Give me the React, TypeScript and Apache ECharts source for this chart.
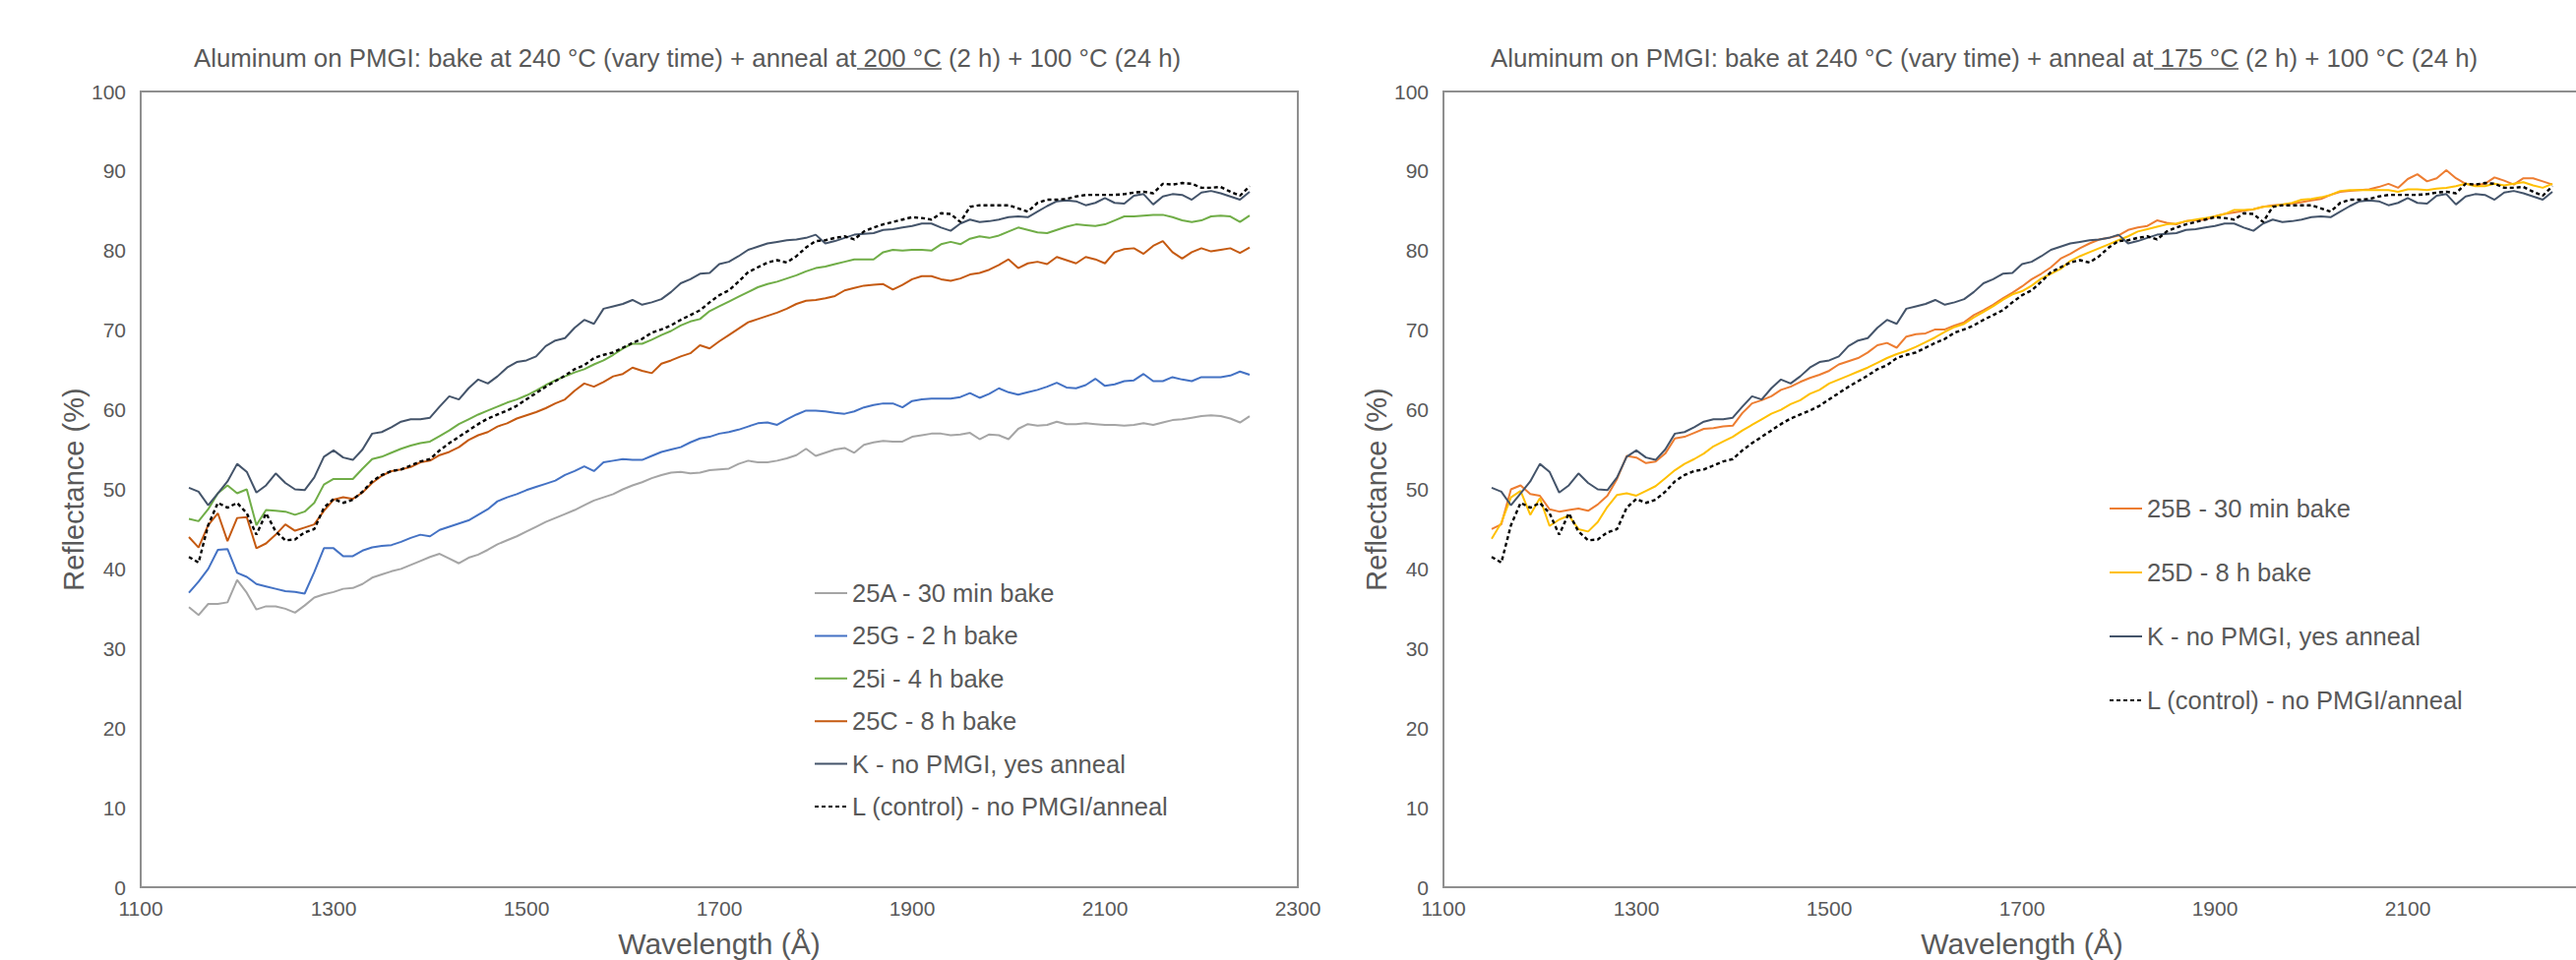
import React, { useEffect, useRef } from "react";
import * as echarts from "echarts";

// Wavelength grid (Å)
const WAVELENGTH = [
  1150, 1160, 1170, 1180, 1190, 1200, 1210, 1220, 1230, 1240,
  1250, 1260, 1270, 1280, 1290, 1300, 1310, 1320, 1330, 1340,
  1350, 1360, 1370, 1380, 1390, 1400, 1410, 1420, 1430, 1440,
  1450, 1460, 1470, 1480, 1490, 1500, 1510, 1520, 1530, 1540,
  1550, 1560, 1570, 1580, 1590, 1600, 1610, 1620, 1630, 1640,
  1650, 1660, 1670, 1680, 1690, 1700, 1710, 1720, 1730, 1740,
  1750, 1760, 1770, 1780, 1790, 1800, 1810, 1820, 1830, 1840,
  1850, 1860, 1870, 1880, 1890, 1900, 1910, 1920, 1930, 1940,
  1950, 1960, 1970, 1980, 1990, 2000, 2010, 2020, 2030, 2040,
  2050, 2060, 2070, 2080, 2090, 2100, 2110, 2120, 2130, 2140,
  2150, 2160, 2170, 2180, 2190, 2200, 2210, 2220, 2230, 2240,
  2250,
];

const X_TICKS = [1100, 1300, 1500, 1700, 1900, 2100, 2300];
const Y_TICKS = [0, 10, 20, 30, 40, 50, 60, 70, 80, 90, 100];

// 25A - 30 min bake (200 °C anneal)
const S25A = [
  35.2, 34.2, 35.6, 35.6, 35.8, 38.6, 37.0, 34.9, 35.3, 35.3,
  35.0, 34.5, 35.4, 36.4, 36.8, 37.1, 37.5, 37.6, 38.1, 38.9,
  39.3, 39.7, 40.0, 40.5, 41.0, 41.5, 41.9, 41.3, 40.7, 41.4,
  41.8, 42.4, 43.1, 43.6, 44.1, 44.7, 45.3, 45.9, 46.4, 46.9,
  47.4, 48.0, 48.6, 49.0, 49.4, 50.0, 50.5, 50.9, 51.4, 51.8,
  52.1, 52.2, 52.0, 52.1, 52.4, 52.5, 52.6, 53.2, 53.6, 53.4,
  53.4, 53.6, 53.9, 54.3, 55.1, 54.2, 54.6, 55.0, 55.2, 54.6,
  55.6, 55.9, 56.1, 56.0, 56.0, 56.6, 56.8, 57.0, 57.0, 56.8,
  56.9, 57.1, 56.3, 56.9, 56.8, 56.3, 57.6, 58.2, 58.0, 58.1,
  58.5, 58.2, 58.2, 58.3, 58.2, 58.1, 58.1, 58.0, 58.1, 58.3,
  58.1, 58.4, 58.7, 58.8, 59.0, 59.2, 59.3, 59.2, 58.9, 58.4,
  59.2,
];

// 25G - 2 h bake
const S25G = [
  37.0, 38.4, 40.0, 42.4, 42.5, 39.5, 39.0, 38.1, 37.8, 37.5,
  37.2, 37.1, 36.9, 39.6, 42.6, 42.6, 41.6, 41.6, 42.3, 42.7,
  42.9, 43.0, 43.4, 43.9, 44.3, 44.1, 44.9, 45.3, 45.7, 46.1,
  46.8, 47.5, 48.5, 49.0, 49.4, 49.9, 50.3, 50.7, 51.1, 51.8,
  52.3, 52.9, 52.3, 53.4, 53.6, 53.8, 53.7, 53.7, 54.2, 54.7,
  55.0, 55.3, 55.9, 56.4, 56.6, 57.0, 57.2, 57.5, 57.9, 58.3,
  58.4, 58.1, 58.8, 59.4, 59.9, 59.9, 59.8, 59.6, 59.5, 59.8,
  60.3, 60.6, 60.8, 60.8, 60.3, 61.1, 61.3, 61.4, 61.4, 61.4,
  61.6, 62.1, 61.5, 62.0, 62.7, 62.2, 61.9, 62.2, 62.5, 62.9,
  63.4, 62.8, 62.7, 63.1, 63.9, 63.0, 63.2, 63.6, 63.7, 64.5,
  63.6, 63.6, 64.1, 63.8, 63.6, 64.1, 64.1, 64.1, 64.3, 64.8,
  64.4,
];

// 25i - 4 h bake
const S25I = [
  46.3, 46.0, 47.5, 49.5, 50.5, 49.5, 50.0, 45.5, 47.4, 47.3,
  47.2, 46.8, 47.2, 48.3, 50.6, 51.3, 51.3, 51.3, 52.6, 53.8,
  54.1, 54.6, 55.1, 55.5, 55.8, 56.0, 56.7, 57.4, 58.2, 58.8,
  59.4, 59.9, 60.4, 60.9, 61.3, 61.8, 62.4, 63.1, 63.7, 64.2,
  64.7, 65.1, 65.7, 66.2, 66.9, 67.7, 68.3, 68.3, 68.8, 69.4,
  69.9, 70.6, 71.1, 71.4, 72.4, 73.0, 73.6, 74.2, 74.8, 75.4,
  75.8, 76.1, 76.5, 76.9, 77.4, 77.8, 78.0, 78.3, 78.6, 78.9,
  78.9, 78.9, 79.8, 80.1, 80.0, 80.1, 80.1, 80.0, 80.8, 81.1,
  80.8, 81.5, 81.8, 81.6, 81.9, 82.4, 82.9, 82.6, 82.3, 82.2,
  82.6, 83.0, 83.3, 83.2, 83.1, 83.3, 83.8, 84.3, 84.3, 84.4,
  84.5, 84.5, 84.2, 83.8, 83.6, 83.8, 84.3, 84.4, 84.3, 83.6,
  84.4,
];

// 25C - 8 h bake
const S25C = [
  44.0, 42.7, 45.5, 47.0, 43.5, 46.4, 46.5, 42.6, 43.2, 44.3,
  45.6, 44.8, 45.2, 45.6, 47.3, 48.7, 49.0, 48.8, 49.6, 50.8,
  51.7, 52.3, 52.5, 52.8, 53.4, 53.6, 54.3, 54.7, 55.3, 56.2,
  56.8, 57.2, 57.9, 58.3, 58.9, 59.3, 59.7, 60.2, 60.8, 61.3,
  62.4, 63.3, 62.9, 63.5, 64.2, 64.5, 65.3, 64.9, 64.6, 65.8,
  66.2, 66.7, 67.1, 68.1, 67.7, 68.6, 69.4, 70.2, 71.0, 71.4,
  71.8, 72.2, 72.7, 73.3, 73.7, 73.8, 74.0, 74.3, 75.0, 75.3,
  75.6, 75.7, 75.8, 75.1, 75.7, 76.4, 76.8, 76.8, 76.4, 76.2,
  76.5, 77.0, 77.2, 77.6, 78.2, 78.9, 77.8, 78.4, 78.6, 78.3,
  79.2, 78.8, 78.4, 79.2, 78.9, 78.4, 79.8, 80.2, 80.3, 79.6,
  80.6, 81.2, 79.8, 79.0, 79.8, 80.3, 79.9, 80.1, 80.3, 79.7,
  80.4,
];

// K - no PMGI, yes anneal
const SK = [
  50.2, 49.7, 48.0, 49.5, 51.0, 53.2, 52.2, 49.6, 50.5, 52.0,
  50.8, 50.0, 49.9, 51.5, 54.1, 54.9, 54.0, 53.7, 55.0, 57.0,
  57.2, 57.8, 58.5, 58.8, 58.8, 59.0, 60.4, 61.7, 61.3, 62.7,
  63.8, 63.3, 64.2, 65.3, 66.0, 66.2, 66.7, 68.0, 68.7, 69.0,
  70.3, 71.3, 70.8, 72.7, 73.0, 73.3, 73.8, 73.2, 73.5, 73.9,
  74.8, 75.9, 76.4, 77.1, 77.2, 78.3, 78.6, 79.3, 80.1, 80.5,
  80.9, 81.1, 81.3, 81.4, 81.6, 82.0, 80.9, 81.2, 81.6, 82.0,
  82.1, 82.2, 82.6, 82.7, 82.9, 83.1, 83.4, 83.4, 82.9, 82.5,
  83.4, 83.9, 83.6, 83.7, 83.9, 84.2, 84.3, 84.2, 84.9, 85.6,
  86.2, 86.3, 86.2, 85.7, 86.0, 86.6, 86.0, 85.9, 86.9, 87.1,
  85.8, 86.8, 87.1, 87.0, 86.4, 87.3, 87.5, 87.2, 86.8, 86.4,
  87.4,
];

// L (control) - no PMGI/anneal
const SL = [
  41.5, 40.8, 45.5, 48.3, 47.7, 48.3, 47.0, 44.3, 47.0, 44.7,
  43.6, 43.7, 44.6, 45.0, 47.7, 48.8, 48.3, 48.7, 49.7, 51.0,
  51.8, 52.3, 52.5, 53.0, 53.5, 53.8, 54.9, 55.8, 56.6, 57.4,
  58.2, 58.9, 59.4, 59.9, 60.5, 61.3, 62.1, 62.9, 63.6, 64.3,
  65.1, 65.6, 66.5, 66.9, 67.2, 67.8, 68.4, 68.9, 69.7, 70.1,
  70.6, 71.3, 71.9, 72.5, 73.5, 74.4, 75.0, 76.1, 77.3, 77.9,
  78.5, 78.8, 78.5, 79.3, 80.4, 81.2, 81.3, 81.6, 81.8, 81.4,
  82.4, 82.9, 83.3, 83.6, 83.9, 84.2, 84.1, 83.9, 84.7, 84.6,
  83.6, 85.5, 85.7, 85.7, 85.7, 85.7, 85.3, 84.9, 86.0, 86.4,
  86.4, 86.5, 86.8, 87.0, 87.0, 87.0, 87.0, 87.1, 87.3, 87.4,
  87.2, 88.4, 88.3, 88.5, 88.4, 87.9, 87.9, 88.0, 87.4, 86.9,
  88.1,
];

// 25B - 30 min bake (175 °C anneal)
const S25B = [
  45.0, 45.6, 50.0, 50.5, 49.4, 49.2, 47.5, 47.2, 47.4, 47.6,
  47.3, 48.1, 49.2, 51.3, 54.2, 54.0, 53.3, 53.5, 54.5, 56.4,
  56.6, 57.1, 57.6, 57.7, 57.9, 58.0, 59.6, 60.8, 61.2, 61.7,
  62.5, 62.9, 63.5, 64.0, 64.4, 64.9, 65.7, 66.1, 66.5, 67.2,
  68.1, 68.4, 67.8, 69.2, 69.5, 69.6, 70.1, 70.1, 70.6, 71.0,
  71.9, 72.5, 73.2, 74.0, 74.7, 75.5, 76.4, 77.1, 77.9, 79.0,
  79.6, 80.3, 80.9, 81.4, 81.6, 81.9, 82.6, 82.9, 83.1, 83.8,
  83.5, 83.3, 83.7, 83.8, 83.9, 84.3, 84.6, 84.8, 85.0, 85.2,
  85.5, 85.7, 85.8, 85.9, 86.1, 86.3, 86.5, 87.0, 87.4, 87.5,
  87.6, 87.7, 88.0, 88.4, 87.9, 89.0, 89.6, 88.7, 89.1, 90.1,
  89.1, 88.4, 88.2, 88.4, 89.2, 88.8, 88.3, 89.1, 89.1, 88.7,
  88.3,
];

// 25D - 8 h bake (175 °C anneal)
const S25D = [
  43.8, 45.8, 49.0, 49.8, 46.8, 48.9, 45.4, 46.2, 46.7, 45.0,
  44.7, 45.9, 47.8, 49.3, 49.5, 49.2, 49.8, 50.4, 51.4, 52.4,
  53.2, 53.8, 54.5, 55.4, 56.0, 56.6, 57.4, 58.1, 58.8, 59.5,
  60.0, 60.7, 61.2, 62.0, 62.5, 63.3, 63.8, 64.3, 64.8, 65.3,
  65.9, 66.5, 67.0, 67.4, 67.9, 68.5, 69.1, 69.8, 70.4, 70.8,
  71.6, 72.3, 73.0, 73.8, 74.5, 74.9, 75.6, 76.5, 77.1, 77.7,
  78.7, 79.3, 79.8, 80.3, 80.8, 81.3, 81.8, 82.4, 82.7, 83.0,
  83.3, 83.4, 83.7, 83.9, 84.1, 84.3, 84.6, 85.1, 85.1, 85.2,
  85.5, 85.6, 85.8, 86.0, 86.4, 86.5, 86.7, 87.0, 87.5, 87.6,
  87.6, 87.6, 87.6, 87.6, 87.4, 87.7, 87.7, 87.6, 87.8, 87.9,
  88.1, 88.4, 88.1, 88.1, 88.4, 88.2, 88.4, 88.6, 88.2, 87.9,
  88.4,
];

const TITLE_LEFT = "Aluminum on PMGI: bake at 240 °C (vary time) + anneal at 200 °C (2 h) + 100 °C (24 h)";
const TITLE_RIGHT = "Aluminum on PMGI: bake at 240 °C (vary time) + anneal at 175 °C (2 h) + 100 °C (24 h)";
const X_NAME = "Wavelength (Å)";
const Y_NAME = "Reflectance (%)";

const NAME_25A = "25A - 30 min bake";
const NAME_25G = "25G - 2 h bake";
const NAME_25I = "25i - 4 h bake";
const NAME_25C = "25C - 8 h bake";
const NAME_K = "K - no PMGI, yes anneal";
const NAME_L = "L (control) - no PMGI/anneal";
const NAME_25B = "25B - 30 min bake";
const NAME_25D = "25D - 8 h bake";

const FONT = '"Liberation Sans", Arial, Helvetica, sans-serif';
const TEXT = "#595959";
const FRAME = "#8f8f8f";

function pairs(vals: number[]) {
  return WAVELENGTH.map((w, i) => [w, vals[i]]);
}

function lineSeries(name: string, vals: number[], color: string, gi: number, dotted = false) {
  return {
    type: "line",
    name,
    xAxisIndex: gi,
    yAxisIndex: gi,
    data: pairs(vals),
    symbol: "none",
    showSymbol: false,
    smooth: false,
    itemStyle: { color },
    lineStyle: { color, width: dotted ? 2.4 : 2, type: dotted ? [4, 3] : "solid" },
    emphasis: { disabled: true },
  };
}

export default function App() {
  const ref = useRef<HTMLDivElement>(null);

  useEffect(() => {
    if (!ref.current) return;
    const chart = echarts.init(ref.current, null, { renderer: "svg" });

    const grids = [
      { left: 143, top: 93, width: 1176, height: 809 },
      { left: 1467, top: 93, width: 1176, height: 809 },
    ];

    const xAxis = grids.map((_, gi) => ({
      type: "value",
      gridIndex: gi,
      min: X_TICKS[0],
      max: X_TICKS[X_TICKS.length - 1],
      interval: X_TICKS[1] - X_TICKS[0],
      name: X_NAME,
      nameLocation: "middle",
      nameGap: 42,
      nameTextStyle: { fontSize: 30, color: TEXT, fontFamily: FONT },
      axisLine: { show: true, lineStyle: { color: FRAME, width: 2 } },
      axisTick: { show: false },
      axisLabel: {
        fontSize: 21,
        color: TEXT,
        fontFamily: FONT,
        margin: 11,
        formatter: (v: number) => String(v),
      },
      splitLine: { show: false },
    }));

    const yAxis = grids.map((_, gi) => ({
      type: "value",
      gridIndex: gi,
      min: Y_TICKS[0],
      max: Y_TICKS[Y_TICKS.length - 1],
      interval: Y_TICKS[1] - Y_TICKS[0],
      name: Y_NAME,
      nameLocation: "middle",
      nameGap: 52,
      nameTextStyle: { fontSize: 29, color: TEXT, fontFamily: FONT },
      axisLine: { show: true, lineStyle: { color: FRAME, width: 2 } },
      axisTick: { show: false },
      axisLabel: {
        fontSize: 21,
        color: TEXT,
        fontFamily: FONT,
        margin: 15,
        formatter: (v: number) => String(v),
      },
      splitLine: { show: false },
    }));

    const titleStyle = { fontSize: 25.8, fontWeight: "normal", color: TEXT, fontFamily: FONT };

    const legendText = { fontSize: 25.5, color: TEXT, fontFamily: FONT, lineHeight: 26 };

    chart.setOption({
      animation: false,
      backgroundColor: "#ffffff",
      title: [
        { text: TITLE_LEFT, left: 197, top: 46, padding: 0, textStyle: titleStyle },
        { text: TITLE_RIGHT, left: 1515, top: 46, padding: 0, textStyle: titleStyle },
      ],
      grid: grids.map((g) => ({
        ...g,
        show: true,
        borderColor: FRAME,
        borderWidth: 2,
        backgroundColor: "transparent",
        containLabel: false,
        outerBoundsMode: "none",
      })),
      xAxis,
      yAxis,
      legend: [
        {
          data: [NAME_25A, NAME_25G, NAME_25I, NAME_25C, NAME_K, NAME_L],
          orient: "vertical",
          left: 827,
          top: 590,
          padding: 0,
          itemWidth: 33,
          itemHeight: 14,
          itemGap: 17.4,
          selectedMode: false,
          itemStyle: { opacity: 0 },
          textStyle: legendText,
        },
        {
          data: [NAME_25B, NAME_25D, NAME_K, NAME_L],
          orient: "vertical",
          left: 2143,
          top: 504,
          padding: 0,
          itemWidth: 33,
          itemHeight: 14,
          itemGap: 39,
          selectedMode: false,
          itemStyle: { opacity: 0 },
          textStyle: legendText,
        },
      ],
      graphic: [
        { type: "line", shape: { x1: 871, y1: 70, x2: 957, y2: 70 }, style: { stroke: TEXT, lineWidth: 1.6 } },
        { type: "line", shape: { x1: 2189, y1: 70, x2: 2275, y2: 70 }, style: { stroke: TEXT, lineWidth: 1.6 } },
      ],
      series: [
        lineSeries(NAME_25A, S25A, "#A5A5A5", 0),
        lineSeries(NAME_25G, S25G, "#4472C4", 0),
        lineSeries(NAME_25I, S25I, "#70AD47", 0),
        lineSeries(NAME_25C, S25C, "#C55A11", 0),
        lineSeries(NAME_K, SK, "#44546A", 0),
        lineSeries(NAME_L, SL, "#000000", 0, true),
        lineSeries(NAME_25B, S25B, "#ED7D31", 1),
        lineSeries(NAME_25D, S25D, "#FFC000", 1),
        lineSeries(NAME_K, SK, "#44546A", 1),
        lineSeries(NAME_L, SL, "#000000", 1, true),
      ],
    });

    return () => chart.dispose();
  }, []);

  return (
    <div
      ref={ref}
      style={{ position: "absolute", left: 0, top: 0, width: 2618, height: 976, background: "#fff" }}
    />
  );
}
